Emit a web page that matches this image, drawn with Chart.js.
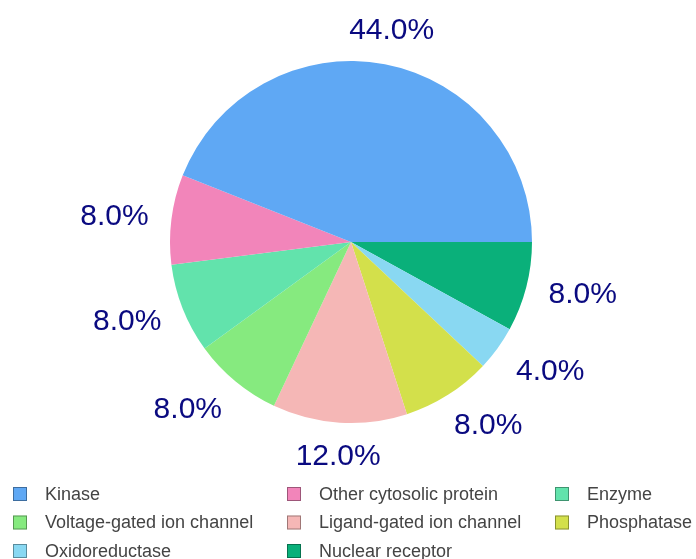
<!DOCTYPE html>
<html>
<head>
<meta charset="utf-8">
<script src="https://cdn.jsdelivr.net/npm/chart.js@4/dist/chart.umd.min.js"></script>
<style>
	html, body { margin: 0; padding: 0; background: #fff; }
	#wrap { width: 696px; height: 559px; }
</style>
</head>
<body>
<div id="wrap"><canvas id="targetPie" width="696" height="559"></canvas></div>
<script>
// Target classes and their share of the total (percent)
const classes = [
	'Kinase',
	'Other cytosolic protein',
	'Enzyme',
	'Voltage-gated ion channel',
	'Ligand-gated ion channel',
	'Phosphatase',
	'Oxidoreductase',
	'Nuclear receptor',
];
const shares = [ 44, 8, 8, 8, 12, 8, 4, 8 ];
const sliceColors = [
	'#5fa8f4',
	'#f285ba',
	'#62e3ac',
	'#86ea7f',
	'#f5b7b6',
	'#d3e04b',
	'#89d8f2',
	'#0ab07a',
];

// Slices run counter-clockwise from 3 o'clock, Chart.js draws clockwise,
// so feed the dataset in reverse order.
const revShares = shares.slice().reverse();
const revColors = sliceColors.slice().reverse();

const labelFont = '30px "Liberation Sans", Arial, sans-serif';
const legendFont = '18px "Liberation Sans", Arial, sans-serif';

function smooth( t ) {
	const k = Math.min( 1, Math.max( 0, ( t - 0.1 ) / 0.6 ) );
	return k * k * ( 3 - 2 * k );
}

// Percent labels outside each slice
const outsideLabels = {
	id: 'outsideLabels',
	afterDatasetsDraw( chart ) {
		const ctx = chart.ctx;
		const meta = chart.getDatasetMeta( 0 );
		const data = chart.data.datasets[ 0 ].data;
		const gap = 23;
		const halfH = 11;
		ctx.save();
		ctx.font = labelFont;
		ctx.fillStyle = '#0a0a80';
		ctx.textAlign = 'center';
		ctx.textBaseline = 'middle';
		meta.data.forEach( ( arc, i ) => {
			const p = arc.getProps(
				[ 'x', 'y', 'startAngle', 'endAngle', 'outerRadius' ],
				true
			);
			const mid = ( p.startAngle + p.endAngle ) / 2;
			const c = Math.cos( mid );
			const s = Math.sin( mid );
			const text = data[ i ].toFixed( 1 ) + '%';
			const halfW = ctx.measureText( text ).width / 2;
			const ax = p.x + ( p.outerRadius + gap ) * c;
			const ay = p.y + ( p.outerRadius + gap ) * s;
			const tx = ax + Math.sign( c ) * smooth( Math.abs( c ) ) * halfW;
			const ty = ay + Math.sign( s ) * smooth( Math.abs( s ) ) * halfH;
			ctx.fillText( text, tx, ty );
		} );
		ctx.restore();
	},
};

// Three-column legend under the pie
const gridLegend = {
	id: 'gridLegend',
	afterDraw( chart ) {
		const ctx = chart.ctx;
		const colX = [ 13, 287, 555 ];
		const rowY = [ 494, 522.5, 551 ];
		ctx.save();
		ctx.font = legendFont;
		ctx.textAlign = 'left';
		ctx.textBaseline = 'middle';
		classes.forEach( ( name, i ) => {
			const x = colX[ i % 3 ];
			const y = rowY[ Math.floor( i / 3 ) ];
			ctx.fillStyle = sliceColors[ i ];
			ctx.fillRect( x, y - 7, 14, 14 );
			ctx.strokeStyle = 'rgba(0,0,0,0.35)';
			ctx.lineWidth = 1;
			ctx.strokeRect( x + 0.5, y - 6.5, 13, 13 );
			ctx.fillStyle = '#444';
			ctx.fillText( name, x + 32, y + 1 );
		} );
		ctx.restore();
	},
};

new Chart( document.getElementById( 'targetPie' ).getContext( '2d' ), {
	type: 'pie',
	data: {
		labels: classes.slice().reverse(),
		datasets: [
			{
				data: revShares,
				backgroundColor: revColors,
				borderWidth: 0,
				hoverOffset: 0,
				offset: 0,
			},
		],
	},
	options: {
		responsive: false,
		animation: false,
		rotation: 90,
		radius: 181,
		layout: {
			padding: { left: 170, right: 164, top: 61, bottom: 136 },
		},
		plugins: {
			legend: { display: false },
			tooltip: { enabled: false },
		},
	},
	plugins: [ outsideLabels, gridLegend ],
} );
</script>
</body>
</html>
